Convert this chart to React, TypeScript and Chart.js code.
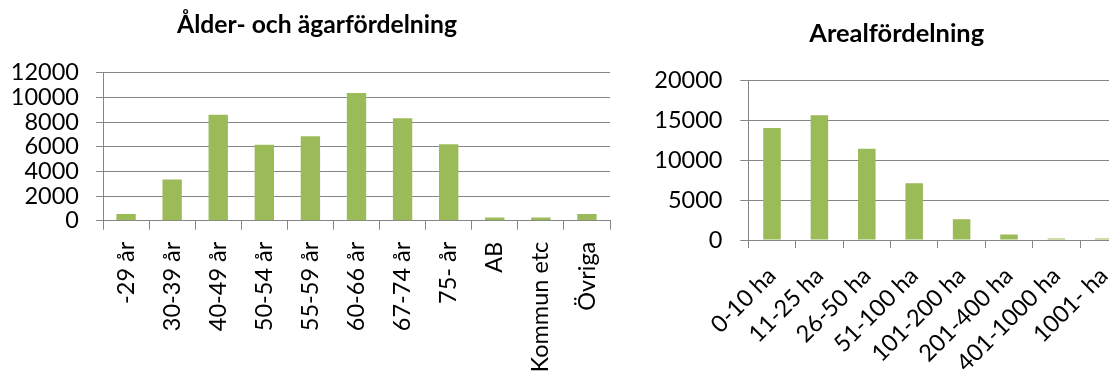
import React, { useEffect, useRef } from "react";
import { Chart, registerables } from "chart.js";

Chart.register(...registerables);

// ---------- data ----------
const ageTitle = "Ålder- och ägarfördelning";
const ageCategories = [
  "-29 år",
  "30-39 år",
  "40-49 år",
  "50-54 år",
  "55-59 år",
  "60-66 år",
  "67-74 år",
  "75- år",
  "AB",
  "Kommun etc",
  "Övriga",
];
const ageValues = [550, 3350, 8600, 6150, 6850, 10350, 8300, 6200, 250, 250, 550];
const ageTicks = [0, 2000, 4000, 6000, 8000, 10000, 12000];

const areaTitle = "Arealfördelning";
const areaCategories = [
  "0-10 ha",
  "11-25 ha",
  "26-50 ha",
  "51-100 ha",
  "101-200 ha",
  "201-400 ha",
  "401-1000 ha",
  "1001- ha",
];
const areaValues = [14000, 15600, 11400, 7100, 2600, 700, 200, 200];
const areaTicks = [0, 5000, 10000, 15000, 20000];

// ---------- styling ----------
const BAR = "#9BBB59";
const GRID = "#868686";
const FONT = "Lato, 'Open Sans', sans-serif";

type Cfg = {
  title: string;
  labels: string[];
  values: number[];
  ticks: number[];
  width: number;
  height: number;
  padRight: number;
  yWidth: number;
  spacerWidth: number;
  xHeight: number;
  titleSize: number;
  titlePadTop: number;
  titlePadBottom: number;
  rotation: number;
  xPad: number;
  yPad: number;
  yTickLen: number;
  xTickLen: number;
  barPct: number;
};

function BarChart(props: { cfg: Cfg; left: number; top: number }) {
  const ref = useRef<HTMLCanvasElement | null>(null);
  const { cfg } = props;
  useEffect(() => {
    if (!ref.current) return;
    const chart = new Chart(ref.current, {
      type: "bar",
      data: {
        labels: cfg.labels,
        datasets: [
          {
            data: cfg.values,
            backgroundColor: BAR,
            borderWidth: 0,
            categoryPercentage: 1,
            barPercentage: cfg.barPct,
            yAxisID: "y",
          },
        ],
      },
      options: {
        responsive: false,
        animation: false,
        devicePixelRatio: 1,
        layout: {
          padding: { left: 0, right: cfg.padRight, top: 0, bottom: 0 },
        },
        plugins: {
          legend: { display: false },
          tooltip: { enabled: false },
          title: {
            display: true,
            text: cfg.title,
            color: "#000",
            font: { family: FONT, size: cfg.titleSize, weight: "bold" },
            padding: { top: cfg.titlePadTop, bottom: cfg.titlePadBottom },
          },
        },
        scales: {
          x: {
            type: "category",
            offset: true,
            grid: {
              offset: true,
              drawOnChartArea: false,
              drawTicks: true,
              tickLength: cfg.xTickLen,
              color: GRID,
              lineWidth: 1,
            },
            border: { display: true, color: GRID, width: 1 },
            ticks: {
              autoSkip: false,
              maxRotation: cfg.rotation,
              minRotation: cfg.rotation,
              padding: cfg.xPad,
              color: "#000",
              font: { family: FONT, size: 23.5 },
            },
            afterFit: (s: any) => {
              s.height = cfg.xHeight;
            },
          },
          y: {
            type: "linear",
            position: "left",
            min: cfg.ticks[0],
            max: cfg.ticks[cfg.ticks.length - 1],
            grid: {
              drawTicks: true,
              tickLength: cfg.yTickLen,
              color: GRID,
              lineWidth: 1,
            },
            border: { display: true, color: GRID, width: 1 },
            ticks: {
              autoSkip: false,
              padding: cfg.yPad,
              color: "#000",
              font: { family: FONT, size: 23.5 },
              callback: (v: any) => String(v),
            },
            afterBuildTicks: (s: any) => {
              s.ticks = cfg.ticks.map((v) => ({ value: v }));
            },
            afterFit: (s: any) => {
              s.width = cfg.yWidth;
            },
          },
          // empty right-hand spacer so the title centres over the whole chart object
          spacer: {
            type: "linear",
            position: "right",
            grid: { display: false, drawTicks: false },
            border: { display: false },
            ticks: { display: false },
            afterFit: (s: any) => {
              s.width = cfg.spacerWidth;
            },
          },
        },
      },
    });
    return () => chart.destroy();
  }, []);
  return (
    <canvas
      ref={ref}
      width={cfg.width}
      height={cfg.height}
      style={{
        position: "absolute",
        left: props.left,
        top: props.top,
        width: cfg.width,
        height: cfg.height,
      }}
    />
  );
}

const leftCfg: Cfg = {
  title: ageTitle,
  labels: ageCategories,
  values: ageValues,
  ticks: ageTicks,
  width: 640,
  height: 374,
  padRight: 6,
  yWidth: 103,
  spacerWidth: 24,
  xHeight: 153.3,
  titleSize: 24.7,
  titlePadTop: 9.9,
  titlePadBottom: 33.15,
  rotation: 90,
  xPad: 12,
  yPad: 17,
  yTickLen: 7,
  xTickLen: 9,
  barPct: 0.42,
};

const rightCfg: Cfg = {
  title: areaTitle,
  labels: areaCategories,
  values: areaValues,
  ticks: areaTicks,
  width: 520,
  height: 374,
  padRight: 6.6,
  yWidth: 108.3,
  spacerWidth: 25.9,
  xHeight: 134,
  titleSize: 25.4,
  titlePadTop: 18.3,
  titlePadBottom: 31.25,
  rotation: 45,
  xPad: 14,
  yPad: 17.8,
  yTickLen: 8,
  xTickLen: 8,
  barPct: 0.37,
};

export default function App() {
  return (
    <div
      style={{
        position: "fixed",
        left: 0,
        top: 0,
        width: 1109,
        height: 374,
        overflow: "hidden",
        background: "#fff",
      }}
    >
      <BarChart cfg={leftCfg} left={0} top={0} />
      <BarChart cfg={rightCfg} left={640} top={0} />
    </div>
  );
}
